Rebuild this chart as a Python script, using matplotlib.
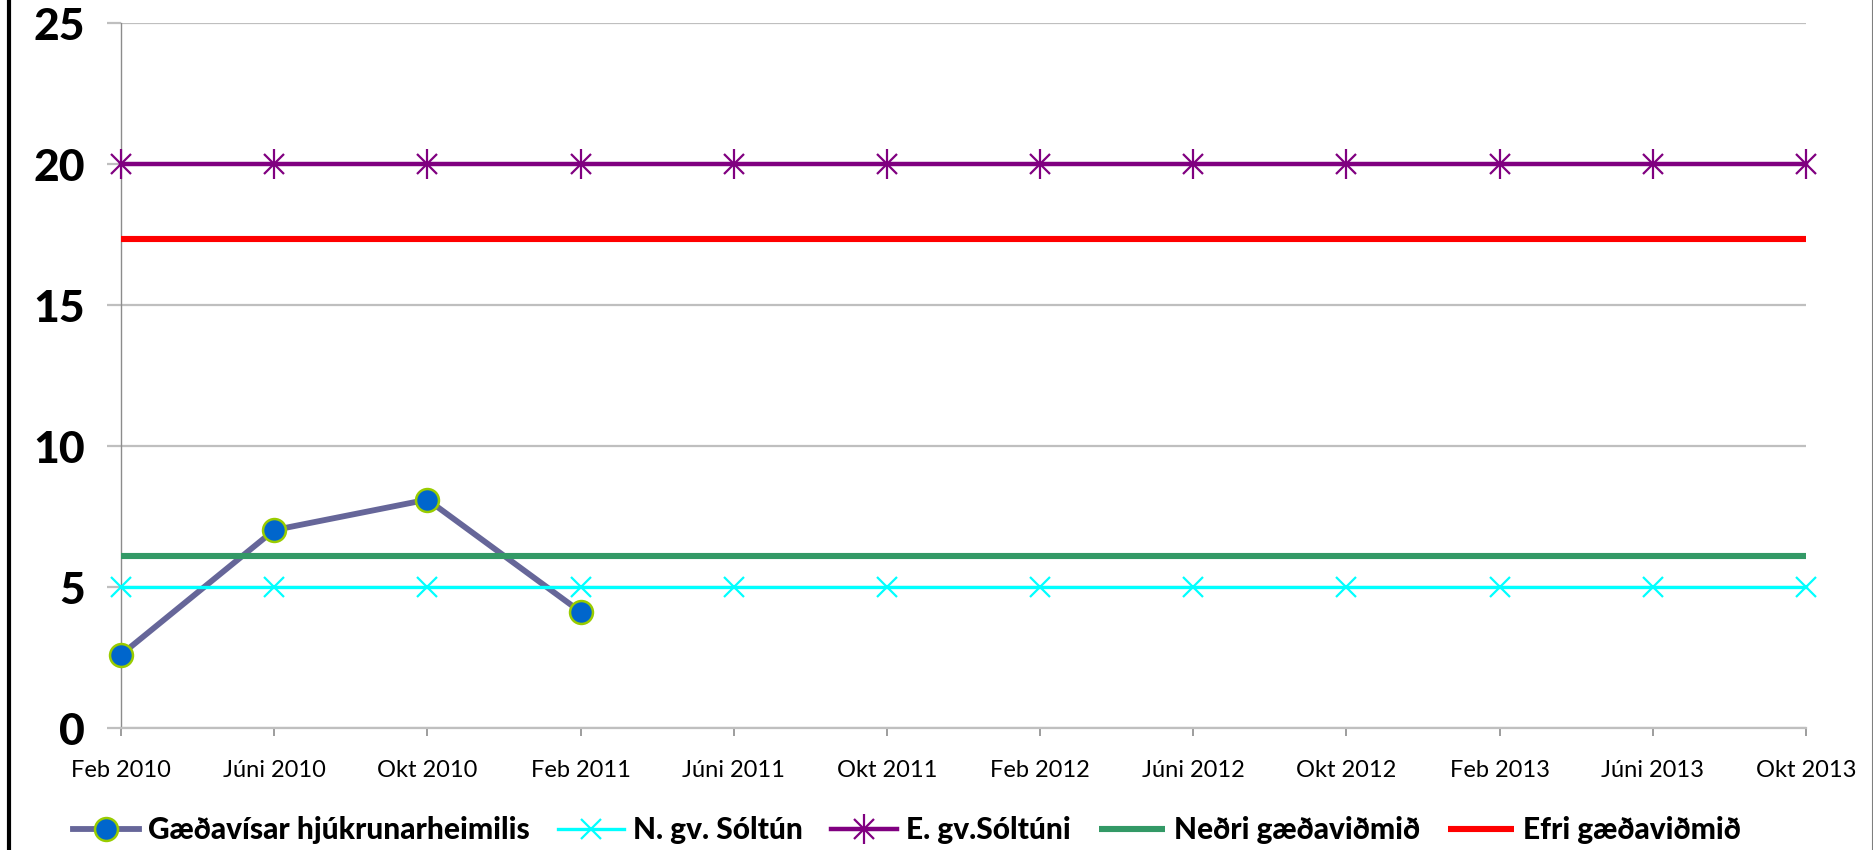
import matplotlib
matplotlib.use('Agg')
import matplotlib.pyplot as plt
from matplotlib.lines import Line2D
from matplotlib.legend_handler import HandlerTuple

# data
months = ['Feb 2010', 'Júni 2010', 'Okt 2010', 'Feb 2011', 'Júni 2011', 'Okt 2011',
          'Feb 2012', 'Júni 2012', 'Okt 2012', 'Feb 2013', 'Júni 2013', 'Okt 2013']
gaedavisar = [2.6, 7.02, 8.1, 4.12]
nedri_gv = [5] * 12
efri_gv = [20] * 12
nedri_vidmid = [6.1] * 12
efri_vidmid = [17.35] * 12

names = ['Gæðavísar hjúkrunarheimilis', 'N. gv. Sóltún', 'E. gv.Sóltúni',
         'Neðri gæðaviðmið', 'Efri gæðaviðmið']

plt.rcParams['font.family'] = ['Lato', 'DejaVu Sans']

fig = plt.figure(figsize=(18.74, 8.5), dpi=100)
ax = fig.add_axes([0.0646, 0.1435, 0.8991, 0.8294])

x = list(range(len(months)))

# series in sheet order, later ones on top
l1, = ax.plot(x[:len(gaedavisar)], gaedavisar, color='#666699', lw=4.2, marker='o',
              ms=16.5, mfc='#0066CC', mec='#99CC00', mew=1.8, zorder=3, clip_on=False)
l2, = ax.plot(x, nedri_gv, color='#00FFFF', lw=2.4, marker='x', ms=15, mew=1.6,
              zorder=4, clip_on=False)
l3, = ax.plot(x, efri_gv, color='#800080', lw=3.2, marker='x', ms=15, mew=1.6,
              zorder=5, clip_on=False)
l3b, = ax.plot(x, efri_gv, color='#800080', lw=0, marker='|', ms=21, mew=1.6,
               zorder=5, clip_on=False)
l4, = ax.plot(x, nedri_vidmid, color='#339966', lw=4.4, zorder=6, solid_capstyle='butt')
l5, = ax.plot(x, efri_vidmid, color='#FF0000', lw=4.4, zorder=7, solid_capstyle='butt')

ax.set_xlim(0, 11)
ax.set_ylim(0, 25)
ax.set_yticks([0, 5, 10, 15, 20, 25])
ax.set_xticks(x)
ax.set_xticklabels(months, fontsize=17)
for lab in ax.get_yticklabels():
    lab.set_fontweight('black')
    lab.set_fontsize(32)

ax.grid(axis='y', color='#BFBFBF', lw=1.6, zorder=0)
ax.grid(axis='x', visible=False)
for s in ['top', 'right']:
    ax.spines[s].set_visible(False)
ax.spines['left'].set_color('#8C8C8C')
ax.spines['left'].set_linewidth(1.0)
ax.spines['bottom'].set_color('#BFBFBF')
ax.spines['bottom'].set_linewidth(1.6)
ax.tick_params(axis='y', length=10, width=1.6, color='#BFBFBF', pad=16)
ax.tick_params(axis='x', length=6, width=1.2, color='#8C8C8C', pad=17)

handles = [l1, l2, (l3, l3b), l4, l5]
fig.legend(handles, names, loc='center', bbox_to_anchor=(0.484, 1 - 830 / 850),
           ncol=5, frameon=False, handlelength=2.2, handletextpad=0.3,
           columnspacing=0.95, prop={'weight': 'black', 'size': 21.5},
           handler_map={tuple: HandlerTuple(ndivide=1, pad=0)})

# chart frame edges
fig.add_artist(Line2D([9 / 1874, 9 / 1874], [0, 1], color='black', lw=3,
                      transform=fig.transFigure))
fig.add_artist(Line2D([1873 / 1874, 1873 / 1874], [0, 1], color='#7F7F7F', lw=1.5,
                      transform=fig.transFigure))

fig.savefig('out.png', dpi=100)
